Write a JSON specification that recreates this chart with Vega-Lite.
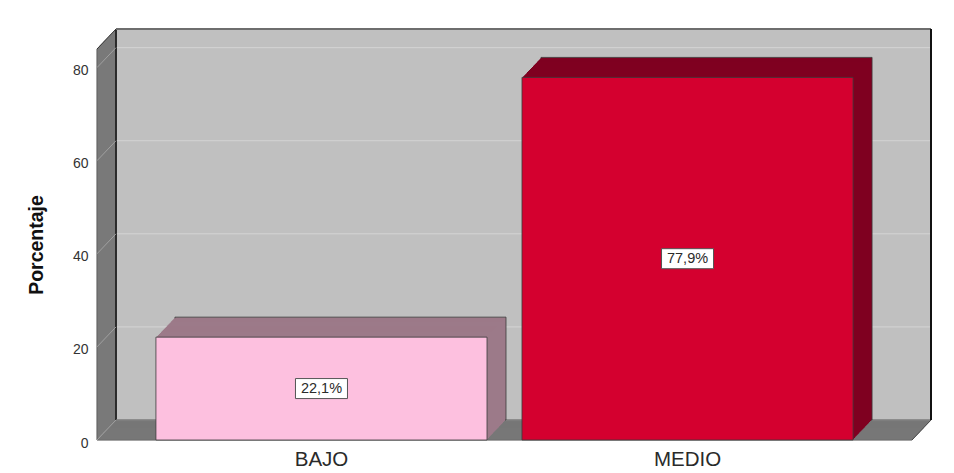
{
  "$schema": "https://vega.github.io/schema/vega-lite/v6.json",
  "width": 815,
  "height": 391,
  "autosize": {"type": "none"},
  "padding": {"left": 97, "top": 49, "right": 42, "bottom": 33},
  "background": "white",
  "config": {
    "view": {"stroke": null},
    "font": "Liberation Sans",
    "locale": {"number": {"decimal": ",", "thousands": ".", "grouping": [3], "currency": ["", "%"]}}
  },
  "data": {"values": [{"cat": "BAJO", "pct": 22.1}, {"cat": "MEDIO", "pct": 77.9}]},
  "resolve": {"scale": {"y": "independent"}, "axis": {"y": "independent"}},
  "layer": [
    {
      "layer": [
        {
          "data": {"values": [{}]},
          "layer": [
            {
              "mark": {"type": "rect", "fill": "#c0c0c0", "xOffset": 19, "x2Offset": 19, "yOffset": -20, "y2Offset": -20},
              "encoding": {"x": {"value": 0}, "x2": {"value": "width"}, "y": {"datum": 0, "type": "quantitative"}, "y2": {"datum": 84}}
            },
            {
              "data": {"values": [{"t": 0}, {"t": 20}, {"t": 40}, {"t": 60}, {"t": 80}]},
              "mark": {"type": "rule", "color": "#d4d4d4", "strokeWidth": 1, "xOffset": 19, "x2Offset": 19, "yOffset": -20},
              "encoding": {"x": {"value": 0}, "x2": {"value": "width"}, "y": {"field": "t", "type": "quantitative"}}
            },
            {
              "encoding": {"x": {"value": 0}, "y": {"datum": 0, "type": "quantitative"}, "y2": {"datum": 84}},
              "layer": [
                {"mark": {"type": "rule", "color": "#747474", "strokeWidth": 1.6, "xOffset": 19, "yOffset": -20, "y2Offset": -20}},
                {"mark": {"type": "rule", "color": "#747474", "strokeWidth": 1.6, "xOffset": 18, "yOffset": -18.9, "y2Offset": -18.9}},
                {"mark": {"type": "rule", "color": "#747474", "strokeWidth": 1.6, "xOffset": 17, "yOffset": -17.9, "y2Offset": -17.9}},
                {"mark": {"type": "rule", "color": "#747474", "strokeWidth": 1.6, "xOffset": 16, "yOffset": -16.8, "y2Offset": -16.8}},
                {"mark": {"type": "rule", "color": "#747474", "strokeWidth": 1.6, "xOffset": 15, "yOffset": -15.8, "y2Offset": -15.8}},
                {"mark": {"type": "rule", "color": "#747474", "strokeWidth": 1.6, "xOffset": 14, "yOffset": -14.7, "y2Offset": -14.7}},
                {"mark": {"type": "rule", "color": "#747474", "strokeWidth": 1.6, "xOffset": 13, "yOffset": -13.7, "y2Offset": -13.7}},
                {"mark": {"type": "rule", "color": "#747474", "strokeWidth": 1.6, "xOffset": 12, "yOffset": -12.6, "y2Offset": -12.6}},
                {"mark": {"type": "rule", "color": "#747474", "strokeWidth": 1.6, "xOffset": 11, "yOffset": -11.6, "y2Offset": -11.6}},
                {"mark": {"type": "rule", "color": "#747474", "strokeWidth": 1.6, "xOffset": 10, "yOffset": -10.5, "y2Offset": -10.5}},
                {"mark": {"type": "rule", "color": "#747474", "strokeWidth": 1.6, "xOffset": 9, "yOffset": -9.5, "y2Offset": -9.5}},
                {"mark": {"type": "rule", "color": "#747474", "strokeWidth": 1.6, "xOffset": 8, "yOffset": -8.4, "y2Offset": -8.4}},
                {"mark": {"type": "rule", "color": "#747474", "strokeWidth": 1.6, "xOffset": 7, "yOffset": -7.4, "y2Offset": -7.4}},
                {"mark": {"type": "rule", "color": "#747474", "strokeWidth": 1.6, "xOffset": 6, "yOffset": -6.3, "y2Offset": -6.3}},
                {"mark": {"type": "rule", "color": "#747474", "strokeWidth": 1.6, "xOffset": 5, "yOffset": -5.3, "y2Offset": -5.3}},
                {"mark": {"type": "rule", "color": "#747474", "strokeWidth": 1.6, "xOffset": 4, "yOffset": -4.2, "y2Offset": -4.2}},
                {"mark": {"type": "rule", "color": "#747474", "strokeWidth": 1.6, "xOffset": 3, "yOffset": -3.2, "y2Offset": -3.2}},
                {"mark": {"type": "rule", "color": "#747474", "strokeWidth": 1.6, "xOffset": 2, "yOffset": -2.1, "y2Offset": -2.1}},
                {"mark": {"type": "rule", "color": "#747474", "strokeWidth": 1.6, "xOffset": 1, "yOffset": -1.1, "y2Offset": -1.1}},
                {"mark": {"type": "rule", "color": "#4a4a4a", "strokeWidth": 1}},
                {"mark": {"type": "rule", "color": "#111111", "strokeWidth": 1.5, "xOffset": 19, "yOffset": -20, "y2Offset": -20}}
              ]
            },
            {
              "encoding": {"x": {"value": 0}, "x2": {"value": "width"}, "y": {"datum": 0, "type": "quantitative"}},
              "layer": [
                {"mark": {"type": "rule", "color": "#777777", "strokeWidth": 1.6, "xOffset": 19, "x2Offset": 19, "yOffset": -20}},
                {"mark": {"type": "rule", "color": "#777777", "strokeWidth": 1.6, "xOffset": 18, "x2Offset": 18, "yOffset": -18.9}},
                {"mark": {"type": "rule", "color": "#777777", "strokeWidth": 1.6, "xOffset": 17, "x2Offset": 17, "yOffset": -17.9}},
                {"mark": {"type": "rule", "color": "#777777", "strokeWidth": 1.6, "xOffset": 16, "x2Offset": 16, "yOffset": -16.8}},
                {"mark": {"type": "rule", "color": "#777777", "strokeWidth": 1.6, "xOffset": 15, "x2Offset": 15, "yOffset": -15.8}},
                {"mark": {"type": "rule", "color": "#777777", "strokeWidth": 1.6, "xOffset": 14, "x2Offset": 14, "yOffset": -14.7}},
                {"mark": {"type": "rule", "color": "#777777", "strokeWidth": 1.6, "xOffset": 13, "x2Offset": 13, "yOffset": -13.7}},
                {"mark": {"type": "rule", "color": "#777777", "strokeWidth": 1.6, "xOffset": 12, "x2Offset": 12, "yOffset": -12.6}},
                {"mark": {"type": "rule", "color": "#777777", "strokeWidth": 1.6, "xOffset": 11, "x2Offset": 11, "yOffset": -11.6}},
                {"mark": {"type": "rule", "color": "#777777", "strokeWidth": 1.6, "xOffset": 10, "x2Offset": 10, "yOffset": -10.5}},
                {"mark": {"type": "rule", "color": "#777777", "strokeWidth": 1.6, "xOffset": 9, "x2Offset": 9, "yOffset": -9.5}},
                {"mark": {"type": "rule", "color": "#777777", "strokeWidth": 1.6, "xOffset": 8, "x2Offset": 8, "yOffset": -8.4}},
                {"mark": {"type": "rule", "color": "#777777", "strokeWidth": 1.6, "xOffset": 7, "x2Offset": 7, "yOffset": -7.4}},
                {"mark": {"type": "rule", "color": "#777777", "strokeWidth": 1.6, "xOffset": 6, "x2Offset": 6, "yOffset": -6.3}},
                {"mark": {"type": "rule", "color": "#777777", "strokeWidth": 1.6, "xOffset": 5, "x2Offset": 5, "yOffset": -5.3}},
                {"mark": {"type": "rule", "color": "#777777", "strokeWidth": 1.6, "xOffset": 4, "x2Offset": 4, "yOffset": -4.2}},
                {"mark": {"type": "rule", "color": "#777777", "strokeWidth": 1.6, "xOffset": 3, "x2Offset": 3, "yOffset": -3.2}},
                {"mark": {"type": "rule", "color": "#777777", "strokeWidth": 1.6, "xOffset": 2, "x2Offset": 2, "yOffset": -2.1}},
                {"mark": {"type": "rule", "color": "#777777", "strokeWidth": 1.6, "xOffset": 1, "x2Offset": 1, "yOffset": -1.1}},
                {"mark": {"type": "rule", "color": "#4a4a4a", "strokeWidth": 1}}
              ]
            },
            {
              "data": {"values": [{"t": 0}, {"t": 20}, {"t": 40}, {"t": 60}, {"t": 80}]},
              "mark": {"type": "rule", "color": "#a0a0a0", "strokeWidth": 1, "x2Offset": 19, "y2Offset": -20},
              "encoding": {"x": {"value": 0}, "x2": {"value": 0}, "y": {"field": "t", "type": "quantitative"}, "y2": {"field": "t"}}
            },
            {
              "mark": {"type": "rule", "color": "#333333", "strokeWidth": 1, "x2Offset": 19, "y2Offset": -20},
              "encoding": {"x": {"value": 0}, "x2": {"value": 0}, "y": {"datum": 84, "type": "quantitative"}, "y2": {"datum": 84}}
            },
            {
              "mark": {"type": "rule", "color": "#6e6e6e", "strokeWidth": 2, "xOffset": 19, "x2Offset": 19, "yOffset": -20},
              "encoding": {"x": {"value": 0}, "x2": {"value": "width"}, "y": {"datum": 84, "type": "quantitative"}}
            },
            {
              "mark": {"type": "rule", "color": "#111111", "strokeWidth": 2, "xOffset": 19, "yOffset": -20, "y2Offset": -20},
              "encoding": {"x": {"value": "width"}, "y": {"datum": 0, "type": "quantitative"}, "y2": {"datum": 84}}
            },
            {
              "mark": {"type": "rule", "color": "#4a4a4a", "strokeWidth": 1, "x2Offset": 19, "y2Offset": -20},
              "encoding": {"x": {"value": "width"}, "x2": {"value": "width"}, "y": {"datum": 0, "type": "quantitative"}, "y2": {"datum": 0}}
            }
          ]
        },
        {
          "encoding": {
            "x": {
              "field": "cat", "type": "nominal",
              "scale": {"paddingInner": 0.0956, "paddingOuter": 0.161},
              "axis": {"title": null, "domain": false, "ticks": false, "labelAngle": 0, "labelPadding": 9, "labelFontSize": 20.5, "labelColor": "#2a2a2a", "labelFont": "Liberation Sans"}
            },
            "y": {
              "field": "pct", "type": "quantitative",
              "scale": {"domain": [0, 84], "nice": false},
              "axis": {
                "title": "Porcentaje", "values": [0, 20, 40, 60, 80], "grid": false, "domain": false, "ticks": false,
                "labelPadding": 9, "labelFontSize": 14, "labelColor": "#333333", "labelFont": "Liberation Sans", "labelOffset": 3,
                "titleFont": "Liberation Sans", "titleFontSize": 19.5, "titleFontWeight": "bold", "titleColor": "#111111",
                "titleX": -61, "titleY": 195.5, "titleBaseline": "middle", "titleAngle": 270
              }
            },
            "y2": {"datum": 0},
            "color": {"condition": {"test": "datum.cat === 'BAJO'", "value": "#9c7a89"}, "value": "#7f0020"}
          },
          "layer": [
            {"mark": {"type": "bar", "stroke": "#3a3a3a", "strokeWidth": 0.8, "xOffset": 19, "x2Offset": 19, "yOffset": -20, "y2Offset": -20}},
            {"mark": {"type": "bar", "xOffset": 18, "x2Offset": 18, "yOffset": -18.9, "y2Offset": -18.9}},
            {"mark": {"type": "bar", "xOffset": 17, "x2Offset": 17, "yOffset": -17.9, "y2Offset": -17.9}},
            {"mark": {"type": "bar", "xOffset": 16, "x2Offset": 16, "yOffset": -16.8, "y2Offset": -16.8}},
            {"mark": {"type": "bar", "xOffset": 15, "x2Offset": 15, "yOffset": -15.8, "y2Offset": -15.8}},
            {"mark": {"type": "bar", "xOffset": 14, "x2Offset": 14, "yOffset": -14.7, "y2Offset": -14.7}},
            {"mark": {"type": "bar", "xOffset": 13, "x2Offset": 13, "yOffset": -13.7, "y2Offset": -13.7}},
            {"mark": {"type": "bar", "xOffset": 12, "x2Offset": 12, "yOffset": -12.6, "y2Offset": -12.6}},
            {"mark": {"type": "bar", "xOffset": 11, "x2Offset": 11, "yOffset": -11.6, "y2Offset": -11.6}},
            {"mark": {"type": "bar", "xOffset": 10, "x2Offset": 10, "yOffset": -10.5, "y2Offset": -10.5}},
            {"mark": {"type": "bar", "xOffset": 9, "x2Offset": 9, "yOffset": -9.5, "y2Offset": -9.5}},
            {"mark": {"type": "bar", "xOffset": 8, "x2Offset": 8, "yOffset": -8.4, "y2Offset": -8.4}},
            {"mark": {"type": "bar", "xOffset": 7, "x2Offset": 7, "yOffset": -7.4, "y2Offset": -7.4}},
            {"mark": {"type": "bar", "xOffset": 6, "x2Offset": 6, "yOffset": -6.3, "y2Offset": -6.3}},
            {"mark": {"type": "bar", "xOffset": 5, "x2Offset": 5, "yOffset": -5.3, "y2Offset": -5.3}},
            {"mark": {"type": "bar", "xOffset": 4, "x2Offset": 4, "yOffset": -4.2, "y2Offset": -4.2}},
            {"mark": {"type": "bar", "xOffset": 3, "x2Offset": 3, "yOffset": -3.2, "y2Offset": -3.2}},
            {"mark": {"type": "bar", "xOffset": 2, "x2Offset": 2, "yOffset": -2.1, "y2Offset": -2.1}},
            {"mark": {"type": "bar", "xOffset": 1, "x2Offset": 1, "yOffset": -1.1, "y2Offset": -1.1}},
            {
              "mark": {"type": "bar", "stroke": "#3a3a3a", "strokeWidth": 0.8},
              "encoding": {"color": {"condition": {"test": "datum.cat === 'BAJO'", "value": "#fdc0df"}, "value": "#d4002f"}}
            }
          ]
        }
      ]
    },
    {
      "encoding": {
        "x": {"field": "cat", "type": "nominal"},
        "y": {"field": "pct", "type": "quantitative", "scale": {"domain": [0, 168], "nice": false}, "axis": null}
      },
      "layer": [
        {"mark": {"type": "point", "shape": "M-1,-0.385H1V0.385H-1Z", "size": 2704, "filled": true, "fill": "white", "stroke": "#555555", "strokeWidth": 1, "opacity": 1}},
        {
          "mark": {"type": "text", "fontSize": 14.5, "color": "#2a2a2a", "font": "Liberation Sans"},
          "encoding": {"text": {"field": "pct", "type": "quantitative", "format": "$.1f"}}
        }
      ]
    }
  ]
}
